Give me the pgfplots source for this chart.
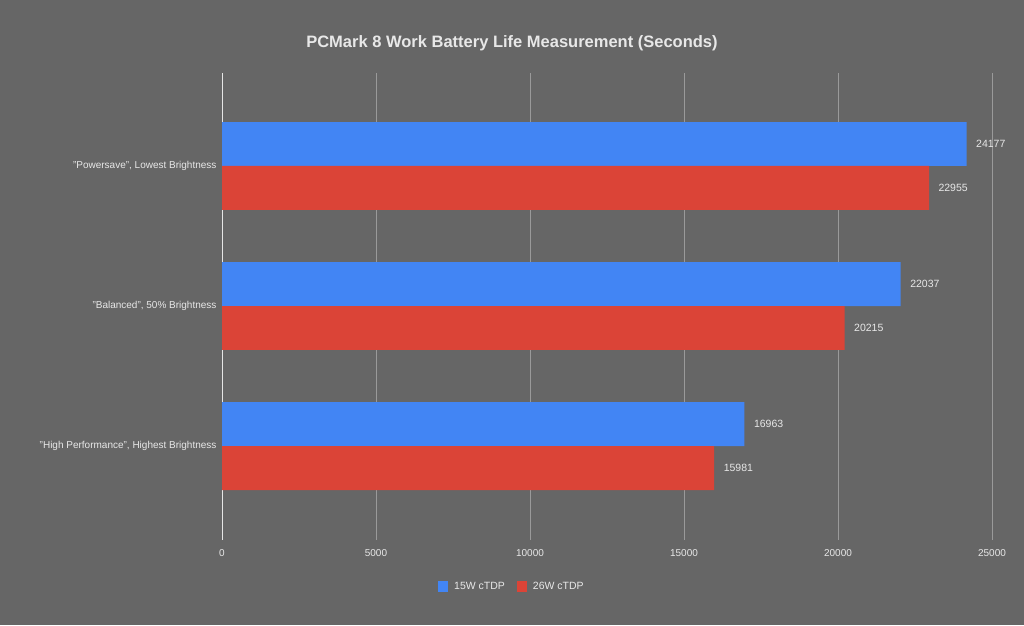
\documentclass[border=0pt]{standalone}
\usepackage{pgfplots}
\pgfplotsset{compat=1.18}
\usepackage{fontspec}
\setmainfont{Liberation Sans}

\definecolor{bgc}{HTML}{666666}
\definecolor{gridc}{HTML}{9A9A9A}
\definecolor{zeroc}{HTML}{E6E6E6}
\definecolor{txtc}{HTML}{E8E8E8}
\definecolor{blue15}{HTML}{4285F4}
\definecolor{red26}{HTML}{DB4437}

\begin{document}
\begin{tikzpicture}[x=1pt,y=1pt]
\fill[bgc] (0,0) rectangle (1024,625);
\useasboundingbox (0,0) rectangle (1024,625);
\node[font=\fontsize{16.5}{19}\selectfont\bfseries, text=txtc] at (512,582) {PCMark 8 Work Battery Life Measurement (Seconds)};

\begin{axis}[
at={(222pt,85pt)}, anchor=south west,
width=770pt, height=467pt,
scale only axis,
xbar,
bar width=0.314,
xmin=0, xmax=25000,
ymin=-0.664, ymax=2.671,
y dir=reverse,
xtick={0,5000,10000,15000,20000,25000},
ytick={0,1,2},
yticklabels={{"Powersave", Lowest Brightness},{"Balanced", 50\% Brightness},{"High Performance", Highest Brightness}},
scaled x ticks=false,
/pgf/number format/assume math mode=true,
/pgf/number format/1000 sep={},
axis line style={draw=none},
major tick length=0pt,
xmajorgrids,
grid style={gridc, line width=0.8pt},
tick label style={font=\fontsize{10}{12}\selectfont, text=txtc},
xticklabel style={yshift=-6pt},
yticklabel style={xshift=-2pt},
nodes near coords,
nodes near coords style={anchor=west, xshift=6pt, font=\fontsize{10.5}{12}\selectfont, text=txtc},
legend columns=2,
legend style={
  at={(0.3766,-0.1006)}, anchor=center,
  draw=none, fill=none, text=txtc,
  font=\fontsize{10.5}{12}\selectfont,
  /tikz/every even column/.append style={column sep=10pt}
},
]
\draw[zeroc, line width=1pt] (axis cs:0,-0.664) -- (axis cs:0,2.671);

\addplot[fill=blue15, draw=none, bar shift=-0.157,
  legend image code/.code={\fill[blue15] (0pt,-5.5pt) rectangle (10pt,5.5pt); \path (14pt,0pt);}]
coordinates {(24177,0) (22037,1) (16963,2)};
\addlegendentry{15W cTDP}

\addplot[fill=red26, draw=none, bar shift=0.157,
  legend image code/.code={\fill[red26] (0pt,-5.5pt) rectangle (10pt,5.5pt); \path (14pt,0pt);}]
coordinates {(22955,0) (20215,1) (15981,2)};
\addlegendentry{26W cTDP}
\end{axis}
\end{tikzpicture}
\end{document}
